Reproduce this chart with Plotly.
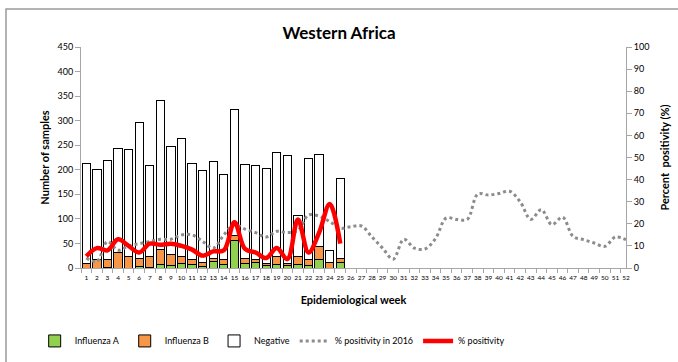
import plotly.graph_objects as go

weeks = [str(i) for i in range(1, 53)]
total = [213, 200, 218, 244, 241, 297, 208, 342, 248, 263, 213, 199, 216, 191, 323,
         211, 208, 202, 236, 230, 107, 223, 232, 36, 183]
flu_a = [0, 0, 2, 0, 0, 3, 1, 8, 5, 9, 7, 4, 14, 8, 57, 10, 12, 5, 7, 5, 7, 5, 18, 0, 12]
flu_ab_top = [10, 18, 18, 32, 24, 19, 23, 37, 27, 24, 17, 12, 19, 18, 66, 20, 17, 10, 23, 10,
              24, 17, 43, 12, 20]
flu_b = [t - a for t, a in zip(flu_ab_top, flu_a)]
negative = [t - p for t, p in zip(total, flu_ab_top)]
pct_pos = [5.3, 9, 8, 13, 10, 7, 11, 10.5, 11, 10, 8.3, 5.6, 7.5, 8, 20.7, 8.6, 7, 4.5, 9, 4,
           22, 7, 16, 29, 11]
pct_2016 = [4.5, 3, 12, 8, 10, 11, 12, 13, 13, 15, 15, 12, 9, 15, 19.6, 17.6, 16, 14, 16.6, 16,
            17, 24, 23.4, 21, 18, 18.7, 19, 14, 9, 4, 13, 9, 8.6, 13.3, 22.6, 22, 22, 33.5,
            33, 33.7, 34.7, 30, 22, 26.4, 19.6, 23, 14.3, 12.8, 11.3, 9.8, 14, 12.8]

n = len(total)
font = "Lato, 'Open Sans', sans-serif"

fig = go.Figure()
line_style = dict(color="#000000", width=1)
fig.add_trace(go.Bar(x=weeks[:n], y=flu_a, name="Influenza A",
                     marker=dict(color="#92D050", line=line_style)))
fig.add_trace(go.Bar(x=weeks[:n], y=flu_b, name="Influenza B",
                     marker=dict(color="#F79646", line=line_style)))
fig.add_trace(go.Bar(x=weeks[:n], y=negative, name="Negative",
                     marker=dict(color="#FFFFFF", line=line_style)))
fig.add_trace(go.Scatter(x=weeks, y=pct_2016, name="% positivity in 2016", yaxis="y2",
                         mode="lines", line=dict(color="#8C8C8C", width=3, dash="dot",
                                                 shape="spline")))
fig.add_trace(go.Scatter(x=weeks[:n], y=pct_pos, name="% positivity", yaxis="y2",
                         mode="lines", line=dict(color="#FF0000", width=4.5, shape="spline")))

fig.update_layout(
    width=678, height=362,
    margin=dict(l=81, r=52, t=47, b=94, autoexpand=False),
    barmode="stack", bargap=0.22,
    plot_bgcolor="white", paper_bgcolor="white",
    font=dict(family=font, color="#000000", size=9),
    title=dict(text="<b>Western Africa</b>", x=0.5, xanchor="center", y=0.91, yanchor="middle",
               font=dict(size=17, family=font)),
    showlegend=True,
    legend=dict(orientation="h", x=-0.085, xanchor="left", y=-0.33, yanchor="middle",
                font=dict(size=9, family=font), traceorder="normal"),
    xaxis=dict(type="category", categoryorder="array", categoryarray=weeks,
               showline=True, linecolor="#A6A6A6", ticks="outside", tickson="boundaries",
               ticklen=4, tickcolor="#A6A6A6", tickangle=0, tickfont=dict(size=6.5),
               ticklabelstandoff=3, automargin=False,
               title=dict(text="<b>Epidemiological week</b>", font=dict(size=11), standoff=16)),
    yaxis=dict(range=[0, 450], dtick=50, showline=True, linecolor="#A6A6A6",
               ticks="outside", ticklen=5, tickcolor="#A6A6A6", showgrid=False,
               tickfont=dict(size=9), automargin=False,
               title=dict(text="<b>Number of samples</b>", font=dict(size=11), standoff=5)),
    yaxis2=dict(range=[0, 100], dtick=10, overlaying="y", side="right", showline=True,
                linecolor="#A6A6A6", ticks="outside", ticklen=5, tickcolor="#A6A6A6",
                showgrid=False, tickfont=dict(size=9), automargin=False,
                title=dict(text="<b>Percent  positivity (%)</b>", font=dict(size=11),
                           standoff=12)),
)
fig.add_shape(type="rect", xref="paper", yref="paper", x0=-0.1376, x1=1.2, y0=-0.6, y1=1.172,
              line=dict(color="#9A9A9A", width=1.5))

fig.write_html("out.html", config={"displayModeBar": False},
               post_script="document.body.style.margin='0';")
